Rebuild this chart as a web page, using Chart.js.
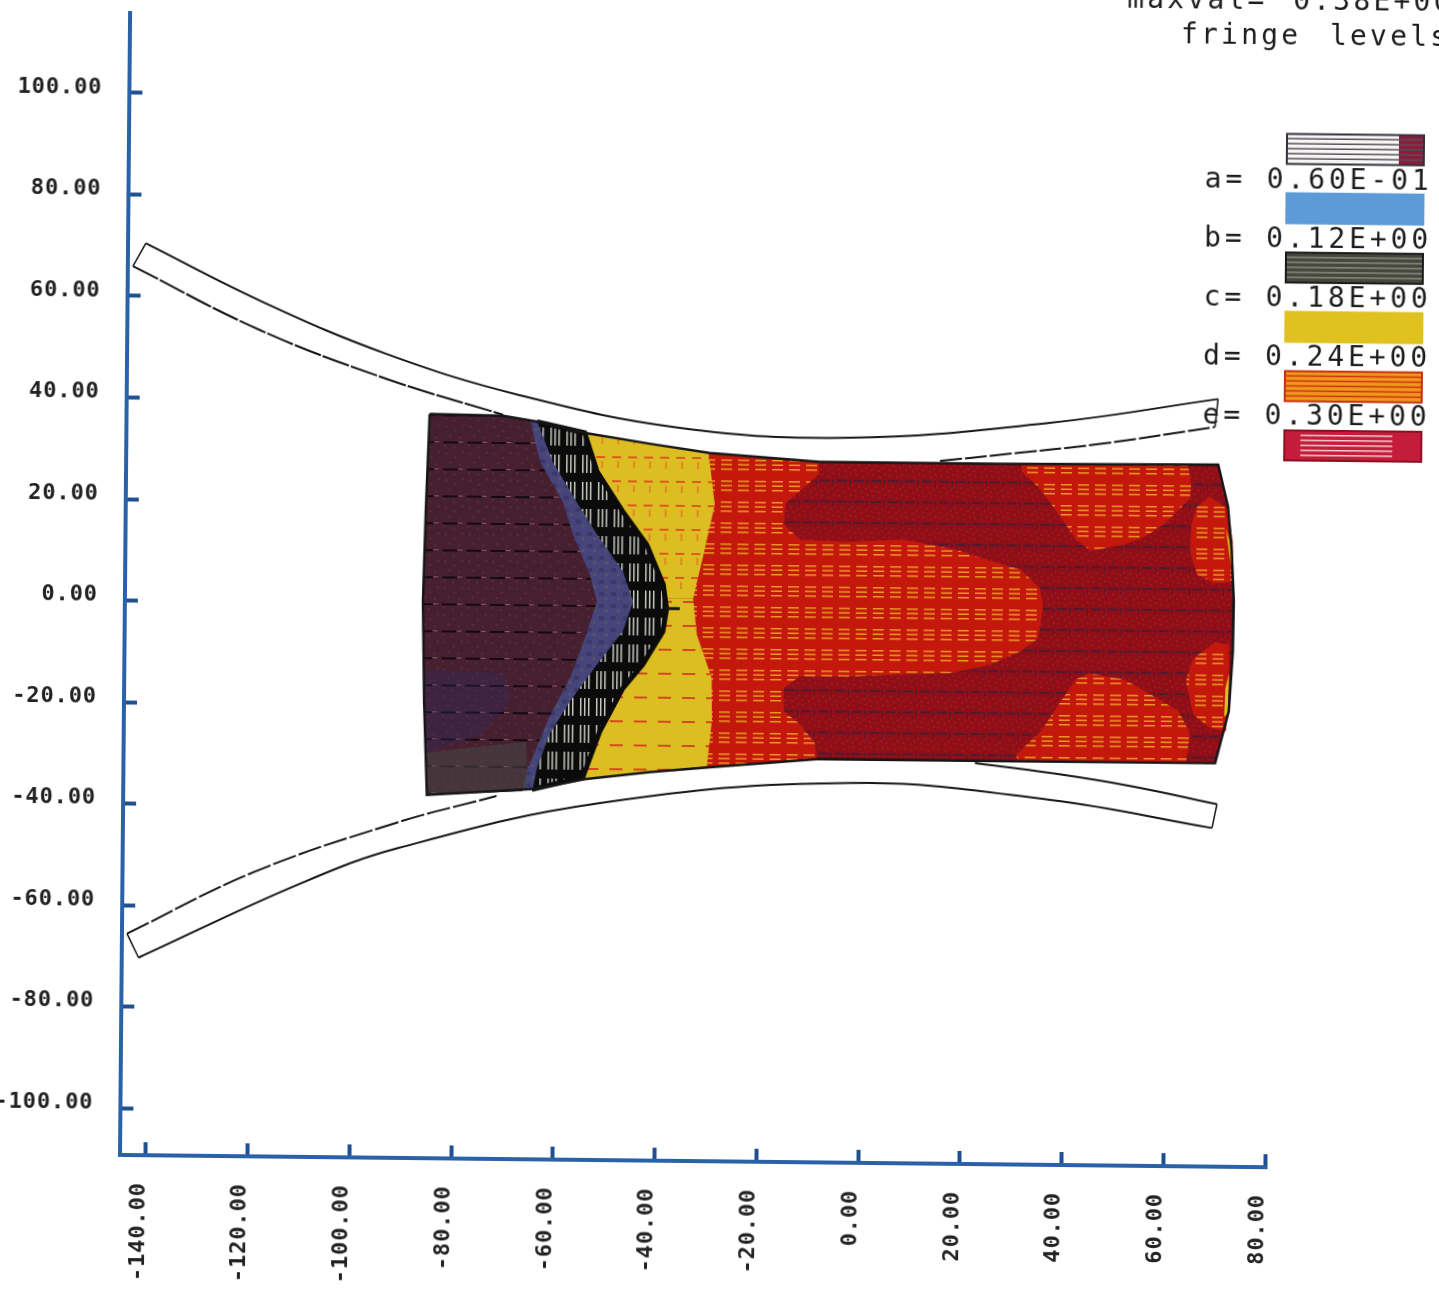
<!DOCTYPE html>
<html lang="en">
  <head>
    <meta charset="UTF-8" />
    <title>Fringe levels</title>
    <style>
      html, body { margin: 0; height: 100%; overflow: hidden; background: #fff; }
      /* the scan is slightly skewed, so the whole plot is skewed with it */
      #plot {
        position: absolute;
        left: -20px;
        top: -40px;
        transform-origin: 140px 1195px;
        transform: matrix(1, 0.0107, -0.00884, 1, 0, 0);
      }
    </style>
  </head>
  <body>
    <canvas id="plot" width="1480" height="1340"></canvas>

    <script src="https://cdn.jsdelivr.net/npm/chart.js"></script>
    <script>
      const xTickValues = [-140, -120, -100, -80, -60, -40, -20, 0, 20, 40, 60, 80];
      const yTickValues = [100, 80, 60, 40, 20, 0, -20, -40, -60, -80, -100];
      const levelNames = ["a=", "b=", "c=", "d=", "e="];
      const levelValues = ["0.60E-01", "0.12E+00", "0.18E+00", "0.24E+00", "0.30E+00"];

      // workpiece outline
      const workpiece = [[-85.5,37.4],[-71.1,37.2],[-64.4,36.1],[-55,34],[-42.2,32],[-30.4,30.3],[-8.7,28.8],[26.7,28.8],[69.6,29.05],
        [71.6,20.8],[72.4,12],[72.9,2.16],[72.8,-7.66],[72.1,-19.5],[69.5,-29.7],[27.2,-29.75],[-8.2,-29.7],[-29.8,-31.6],[-41.6,-32.7],
        [-54.4,-34.2],[-64.2,-36.2],[-85.4,-37.65],[-86.1,-19.2],[-86.5,0.45],[-86.1,18.1]];

      // fringe regions
      const darkRed = [[-8.9,28.8],[-8.9,26.3],[-15.4,20.5],[-15.7,16.4],[-12.5,13.4],[-2.3,13.1],[7.8,13.65],[17.6,11.95],[25.4,9.5],[30.9,8],
        [34.8,4.3],[35.4,0.35],[34.5,-5.5],[31.1,-8.1],[25.1,-10.75],[17.6,-12.55],[8.7,-12.85],[-2.07,-13.4],[-12.3,-13.5],[-15.45,-15.9],
        [-15.4,-20.4],[-12.2,-22.9],[-9.25,-26.6],[-8.8,-29.7],[30.6,-29.7],[30.5,-28.3],[35.2,-23.8],[38.7,-18.4],[42,-13.5],[44.7,-12.3],
        [51.4,-13.4],[55.6,-15.7],[62.3,-19.6],[64.5,-24],[63.8,-29.7],[69.5,-29.7],[72.1,-19.5],[72.8,-7.66],[72.9,2.16],[72.4,12],[71.6,20.8],
        [69.6,29.05],[63.66,29],[64.3,25.05],[64.1,22.35],[59.2,17.3],[55.3,14.75],[51.2,13.1],[44.7,11.85],[41.8,14],[38.35,18.9],[34.6,23.95],
        [31,27.3],[30.8,28.9]];
      const lobeUpper = [[68,22.75],[71.6,20.4],[72.6,13.95],[72.7,6.1],[69,5.7],[65.6,7.4],[64.2,11.9],[64.4,17.2],[65.5,20.75]];
      const lobeLower = [[69.07,-6.1],[72,-6.3],[72.05,-12.2],[71.6,-23.4],[68.4,-22.8],[65.1,-20.15],[63.6,-13.65],[65,-9.15]];
      const sliverUpper = [[71.2,16.5],[72.5,12.5],[72.7,7],[72,11]];
      const sliverLower = [[72.1,-12],[71.9,-20],[71.2,-20.5],[71.4,-15]];
      const yellowUpper = [[-55,34],[-42.2,32],[-30.6,30.2],[-29.3,20.1],[-31.6,9.5],[-33.4,1.6],[-60,1.6],[-60,34]];
      const yellowLower = [[-33.4,1.6],[-32.6,-5.5],[-29.6,-14.05],[-29.5,-22.5],[-30.4,-31.4],[-41.6,-32.7],[-54.4,-34.2],[-60,-34],[-60,1.6]];
      const blackBand = [[-64.4,36.1],[-55,34],[-52.5,26.4],[-47.4,18.6],[-42.6,12.1],[-39.3,4.3],[-38.6,-0.45],[-39.3,-4.96],[-43.2,-11.5],
        [-47.05,-16.2],[-51.5,-24.7],[-54.8,-33.9],[-64.2,-36.2]];
      const blueBand = [[-64.3,36],[-61.2,28.2],[-56.5,20.4],[-52.4,14],[-47.25,6.8],[-45.2,0.9],[-47.15,-5],[-52.2,-11.6],[-57.4,-18.9],
        [-61.4,-25.4],[-63.8,-32.1],[-64.6,-36.2],[-75,-36.8],[-75,37.3]];
      const maroon = [[-65.8,36.4],[-63.7,28.2],[-59.2,20.4],[-57.1,13.95],[-53.75,6.1],[-52.3,0.8],[-55,-7.65],[-57.5,-14.35],[-61.4,-21.9],
        [-65.8,-32.75],[-66.6,-36.7],[-85.4,-37.65],[-86.1,-19.2],[-86.5,0.45],[-86.1,18.1],[-85.5,37.4],[-71.1,37.2]];
      const blueTint = [[-86,-12.9],[-70.3,-13.5],[-69.2,-19],[-75.1,-25.95],[-85.8,-29.4]];
      const greyTint = [[-85.8,-29.4],[-75.1,-28],[-66,-27],[-65.5,-36.4],[-85.4,-37.6]];
      const centreMark = [[-38.9,-0.4],[-36,-0.4]];

      // the two curved strips above and below the workpiece
      const upperStripOuter = [[-141.6,70.4],[-118.5,59.1],[-94,49.1],[-67.9,41.3],[-36.3,35.2],[-2.9,33.6],[36.4,36.95],[69.45,42]];
      const upperStripInnerLeft = [[-144.1,65.9],[-119.1,53.6],[-94,44.2],[-71.1,37.4]];
      const upperStripInnerRight = [[14.9,29.2],[26.6,30.55],[46.3,32.9],[68.9,36.5]];
      const upperCapLeft = [[-141.6,70.4],[-144.1,65.9]];
      const upperCapRight = [[69.45,42],[68.9,36.5]];
      const lowerStripInnerLeft = [[-144.1,-65.6],[-119.5,-53.3],[-92,-43.4],[-71.7,-37.7]];
      const lowerStripInnerRight = [[22.3,-30.2],[37.05,-32],[52.8,-34.4],[69.95,-37.8]];
      const lowerStripOuter = [[-141.8,-70.3],[-110.2,-55.4],[-90.7,-48.1],[-51.35,-38.9],[-2.3,-34.4],[37.1,-37.3],[69,-42.5]];
      const lowerCapLeft = [[-144.1,-65.6],[-141.8,-70.3]];
      const lowerCapRight = [[69.95,-37.8],[69,-42.5]];

      function tile(w, h, paint) {
        const c = document.createElement("canvas");
        c.width = w;
        c.height = h;
        paint(c.getContext("2d"));
        return c.getContext("2d").createPattern(c, "repeat");
      }

      const meshFill = tile(17, 21, (g) => {
        g.fillStyle = "#c4180d";
        g.fillRect(0, 0, 17, 21);
        g.fillStyle = "#eb9a24";
        [11, 15.5, 20].forEach((y) => g.fillRect(4, y - 1, 11, 1.5));
      });
      const darkRedFill = tile(17, 21, (g) => {
        g.fillStyle = "#8f0f18";
        g.fillRect(0, 0, 17, 21);
        g.fillStyle = "#a8141c";
        [[2,2],[9,4],[14,1],[5,14],[12,16],[1,18],[8,19],[15,13]].forEach(([x, y]) => g.fillRect(x, y, 2, 2));
        g.fillStyle = "#4f1a30";
        g.fillRect(1, 8, 10, 2);
        g.fillRect(13, 8, 2, 2);
        g.fillRect(14, 10, 1, 5);
      });
      const yellowUpperFill = tile(16, 24, (g) => {
        g.fillStyle = "#dcbd22";
        g.fillRect(0, 0, 16, 24);
        g.fillStyle = "#dc5a1e";
        g.fillRect(2, 11, 9, 2);
        g.fillStyle = "#e08a22";
        g.fillRect(7, 16, 2, 7);
      });
      const yellowLowerFill = tile(24, 24, (g) => {
        g.fillStyle = "#dcbd22";
        g.fillRect(0, 0, 24, 24);
        g.fillStyle = "#d8481c";
        g.fillRect(2, 11, 13, 2);
      });
      const blackFill = tile(16, 27, (g) => {
        g.fillStyle = "#0b0b0b";
        g.fillRect(0, 0, 16, 27);
        g.fillStyle = "#c8c8c0";
        [4, 8, 12].forEach((x) => g.fillRect(x, 4, 1.5, 18));
      });
      const blueFill = tile(12, 12, (g) => {
        g.fillStyle = "#45457c";
        g.fillRect(0, 0, 12, 12);
        g.fillStyle = "#3c3868";
        g.fillRect(2, 3, 5, 4);
        g.fillStyle = "#55526a";
        g.fillRect(8, 8, 3, 3);
      });
      const maroonFill = tile(24, 27, (g) => {
        g.fillStyle = "#47202f";
        g.fillRect(0, 0, 24, 27);
        g.fillStyle = "#5c2a3c";
        [[3,3],[12,7],[20,2],[7,12],[17,14],[2,22],[11,24]].forEach(([x, y]) => g.fillRect(x, y, 2, 2));
        g.fillStyle = "#150a10";
        g.fillRect(1, 19, 15, 2);
        g.fillStyle = "#8a5a68";
        g.fillRect(16, 19, 5, 1);
      });

      const datasets = [];
      function shape(points, fillStyle, lineColor, lineWidth) {
        datasets.push({
          data: points.map(([x, y]) => ({ x, y })).concat(lineWidth ? [{ x: points[0][0], y: points[0][1] }] : []),
          showLine: true,
          fill: "shape",
          backgroundColor: fillStyle,
          borderColor: lineColor || "transparent",
          borderWidth: lineWidth || 0,
          pointRadius: 0,
        });
      }
      function curve(points, width, dash) {
        datasets.push({
          data: points.map(([x, y]) => ({ x, y })),
          showLine: true,
          fill: false,
          tension: 0.4,
          borderColor: "#161616",
          borderWidth: width,
          borderDash: dash || [],
          pointRadius: 0,
        });
      }

      shape(workpiece, meshFill);
      shape(darkRed, darkRedFill);
      shape(lobeUpper, meshFill);
      shape(lobeLower, meshFill);
      shape(sliverUpper, "#dcbd22");
      shape(sliverLower, "#dcbd22");
      shape(yellowUpper, yellowUpperFill);
      shape(yellowLower, yellowLowerFill);
      shape(blackBand, blackFill, "#0b0b0b", 5);
      shape(blueBand, blueFill);
      shape(maroon, maroonFill);
      shape(blueTint, "rgba(46,46,110,0.3)");
      shape(greyTint, "rgba(70,72,70,0.55)");
      shape(workpiece, "transparent", "#161616", 2.5);
      curve(upperStripOuter, 2);
      curve(upperStripInnerLeft, 2, [28, 2]);
      curve(upperStripInnerRight, 2, [22, 3]);
      curve(upperCapLeft, 1.5);
      curve(upperCapRight, 1.5);
      curve(lowerStripInnerLeft, 2, [24, 3]);
      curve(lowerStripInnerRight, 2);
      curve(lowerStripOuter, 2);
      curve(lowerCapLeft, 1.5);
      curve(lowerCapRight, 1.5);
      curve(centreMark, 3);
      datasets.forEach((d, i) => (d.order = datasets.length - i));

      const legendSwatches = {
        id: "legendSwatches",
        beforeDraw(chart) {
          chart.ctx.letterSpacing = "0.9px";
        },
        afterDraw(chart) {
          const g = chart.ctx;
          g.save();
          g.font = "28px 'DejaVu Sans Mono'";
          g.fillStyle = "#1c1c1c";
          g.textAlign = "left";
          g.textBaseline = "alphabetic";
          g.letterSpacing = "3.2px";
          g.fillText("maxval=", 1137, 37);
          g.fillText("0.38E+00", 1303, 37);
          g.fillText("fringe", 1191, 72);
          g.fillText("levels", 1340, 72);
          g.letterSpacing = "3.9px";
          levelValues.forEach((v, i) => {
            g.fillText(levelNames[i], 1216, 216 + i * 59);
            g.fillText(v, 1278, 216 + i * 59);
          });

          const bases = ["#f8f6f4", "#5c9bd8", "#44483e", "#dfc21f", "#ee9a1c", "#c41c3a"];
          const stripes = ["#55505a", null, "#8a8a80", null, "#d0300f", "#f0d0d0"];
          const edges = ["#33303a", "#5c9bd8", "#1a1a1a", "#dfc21f", "#c8300e", "#8c1020"];
          bases.forEach((base, i) => {
            const x = 1298;
            const y = 161.5 + i * 59.3;
            g.fillStyle = base;
            g.fillRect(x, y, 137, 30);
            if (i === 0 || i === 5) {
              g.fillStyle = i === 0 ? "#8c1c3c" : "#c41c3a";
              g.fillRect(x + 112, y, 25, 30);
            }
            if (stripes[i]) {
              g.fillStyle = stripes[i];
              const from = i === 5 ? 16 : 0;
              const to = i === 5 ? 108 : 137;
              for (let k = 4; k < 28; k += 5) g.fillRect(x + from, y + k, to - from, 1.5);
            }
            g.strokeStyle = edges[i];
            g.lineWidth = 2;
            g.strokeRect(x, y, 137, 30);
          });
          g.restore();
        },
      };

      const tickFont = { family: "'DejaVu Sans Mono'", size: 22, weight: "bold" };
      new Chart(document.getElementById("plot"), {
        type: "scatter",
        data: { datasets },
        plugins: [legendSwatches],
        options: {
          responsive: false,
          animation: false,
          events: [],
          layout: { autoPadding: false, padding: { top: 50, right: 195 } },
          plugins: { legend: { display: false }, tooltip: { enabled: false } },
          scales: {
            x: {
              type: "linear",
              min: -145.1,
              max: 80,
              afterFit: (s) => { s.height = 145; },
              afterBuildTicks: (s) => { s.ticks = xTickValues.map((value) => ({ value })); },
              border: { color: "#2a62a8", width: 4 },
              grid: { drawOnChartArea: false, tickLength: -13, tickWidth: 4, tickColor: "#1f4f8f" },
              ticks: {
                autoSkip: false,
                minRotation: 90,
                maxRotation: 90,
                padding: 40,
                labelOffset: -7,
                color: "#222",
                font: tickFont,
                callback: (v) => Number(v).toFixed(2),
              },
            },
            y: {
              type: "linear",
              min: -109.2,
              max: 115.7,
              afterFit: (s) => { s.width = 140; },
              afterBuildTicks: (s) => { s.ticks = yTickValues.map((value) => ({ value })); },
              border: { color: "#2a62a8", width: 4 },
              grid: { drawOnChartArea: false, tickLength: -13, tickWidth: 4, tickColor: "#1f4f8f" },
              ticks: {
                autoSkip: false,
                padding: 40,
                labelOffset: -5,
                color: "#222",
                font: tickFont,
                callback: (v) => Number(v).toFixed(2),
              },
            },
          },
        },
      });
    </script>
  </body>
</html>
